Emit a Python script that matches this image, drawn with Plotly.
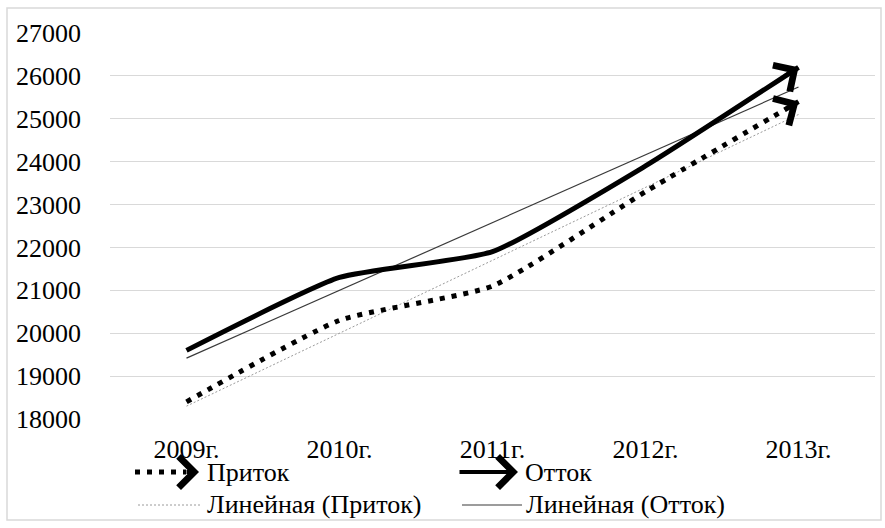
import numpy as np
import plotly.graph_objects as go

categories = ["2009г.", "2010г.", "2011г.", "2012г.", "2013г."]
inflow = [18400, 20300, 21100, 23300, 25400]    # Приток
outflow = [19600, 21300, 21900, 23900, 26200]   # Отток
y_ticks = [18000, 19000, 20000, 21000, 22000, 23000, 24000, 25000, 26000, 27000]

FONT = "Liberation Serif, Times New Roman, DejaVu Serif, serif"
FS = 26
W, H = 885, 528
L, R, T, B = 110, 10, 33, 109
PW, PH = W - L - R, H - T - B

def px(xp):
    return (xp - L) / PW

def py(yp):
    return (H - B - yp) / PH

xs = np.arange(len(categories))

def trend(vals):
    k, b = np.polyfit(xs, np.array(vals, dtype=float), 1)
    return [float(v) for v in (k * xs + b)]

fig = go.Figure()
fig.add_trace(go.Scatter(x=xs, y=trend(inflow), mode="lines",
                         line=dict(color="#9a9a9a", width=1, dash="2px,2px"),
                         showlegend=False, hoverinfo="skip"))
fig.add_trace(go.Scatter(x=xs, y=trend(outflow), mode="lines",
                         line=dict(color="#3a3a3a", width=1.2),
                         showlegend=False, hoverinfo="skip"))
fig.add_trace(go.Scatter(x=xs, y=inflow, mode="lines", name="Приток",
                         line=dict(color="black", width=5, dash="5px,7px",
                                   shape="spline", smoothing=0.5),
                         showlegend=False))
fig.add_trace(go.Scatter(x=xs, y=outflow, mode="lines", name="Отток",
                         line=dict(color="black", width=5,
                                   shape="spline", smoothing=0.5),
                         showlegend=False))

annotations = []
# arrowheads at series ends
for vals in (inflow, outflow):
    n = len(vals) - 1
    d = 0.1
    annotations.append(dict(
        x=float(xs[n]), y=vals[n], xref="x", yref="y",
        ax=float(xs[n] - d), ay=float(vals[n] - d * (vals[n] - vals[n - 1])),
        axref="x", ayref="y", text="", showarrow=True, font=dict(size=1),
        arrowhead=4, arrowsize=1.5, arrowwidth=4, arrowcolor="black"))

# manual legend
row1, row2 = 472, 505
tf = dict(family=FONT, size=FS, color="black")
annotations += [
    dict(x=px(205), y=py(row1), xref="paper", yref="paper", text="Приток",
         showarrow=False, xanchor="left", yanchor="middle", font=tf),
    dict(x=px(523), y=py(row1), xref="paper", yref="paper", text="Отток",
         showarrow=False, xanchor="left", yanchor="middle", font=tf),
    dict(x=px(205), y=py(row2), xref="paper", yref="paper", text="Линейная (Приток)",
         showarrow=False, xanchor="left", yanchor="middle", font=tf),
    dict(x=px(524), y=py(row2), xref="paper", yref="paper", text="Линейная (Отток)",
         showarrow=False, xanchor="left", yanchor="middle", font=tf),
    dict(x=px(199), y=py(row1), xref="paper", yref="paper", ax=-14, ay=0,
         text="", showarrow=True, font=dict(size=1), arrowhead=4,
         arrowsize=1.5, arrowwidth=4, arrowcolor="black"),
    dict(x=px(518), y=py(row1), xref="paper", yref="paper", ax=-60, ay=0,
         text="", showarrow=True, font=dict(size=1), arrowhead=4,
         arrowsize=1.5, arrowwidth=4, arrowcolor="black"),
]

shapes = [
    dict(type="rect", xref="paper", yref="paper",
         x0=px(7), x1=px(881), y0=py(520), y1=py(8),
         line=dict(color="#d9d9d9", width=1.5)),
    dict(type="line", xref="paper", yref="paper",
         x0=px(135), x1=px(186), y0=py(row1), y1=py(row1),
         line=dict(color="black", width=5, dash="5px,7px")),
    dict(type="line", xref="paper", yref="paper",
         x0=px(138), x1=px(200), y0=py(row2), y1=py(row2),
         line=dict(color="#9a9a9a", width=1, dash="2px,2px")),
    dict(type="line", xref="paper", yref="paper",
         x0=px(462), x1=px(522), y0=py(row2), y1=py(row2),
         line=dict(color="#3a3a3a", width=1.2)),
]

fig.update_layout(
    width=W, height=H,
    margin=dict(l=L, r=R, t=T, b=B),
    paper_bgcolor="white", plot_bgcolor="white",
    font=tf,
    showlegend=False,
    annotations=annotations,
    shapes=shapes,
    xaxis=dict(range=[-0.5, len(categories) - 0.5], tickvals=list(xs),
               ticktext=categories, showgrid=False, zeroline=False,
               showline=False, ticks="", ticklabelstandoff=12,
               tickfont=tf),
    yaxis=dict(range=[y_ticks[0], y_ticks[-1]], tickvals=y_ticks,
               tickformat="d",
               showgrid=True, gridcolor="#d9d9d9", gridwidth=1,
               zeroline=False, showline=False, ticks="",
               ticklabelstandoff=28,
               tickfont=tf),
)

fig.write_html(
    "out.html",
    config={"displayModeBar": False},
    post_script="document.body.style.margin='0';document.body.style.overflow='hidden';",
)
